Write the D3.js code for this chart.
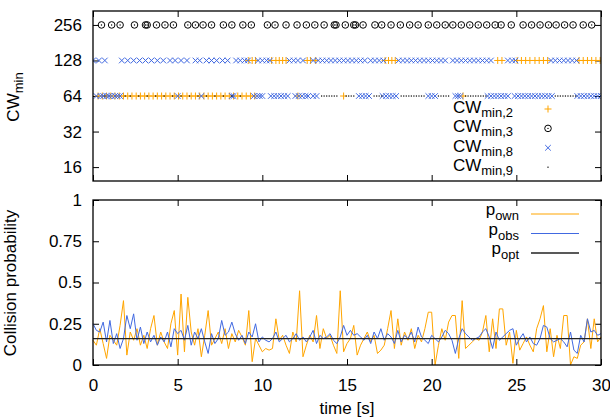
<!DOCTYPE html>
<html lang="en">
  <head>
    <meta charset="utf-8">
    <title>CWmin and collision probability</title>
    <script src="https://d3js.org/d3.v7.min.js"></script>
    <style>
      body { margin: 0; background: #fff; }
      text { font-family: "Liberation Sans", Arial, sans-serif; fill: #000; }
      .frame { fill: none; stroke: #000; stroke-width: 1.3px; }
      .tick line { stroke: #000; stroke-width: 1px; }
    </style>
  </head>
  <body>
    <svg id="chart" width="610" height="418"></svg>
    <script>
      // x ticks (time in seconds)
      var xTicks = [0, 5, 10, 15, 20, 25, 30];
      var cwTicks = [16, 32, 64, 128, 256];
      var pTicks = [0, 0.25, 0.5, 0.75, 1];
      var pTickLabels = ["0", "0.25", "0.5", "0.75", "1"];

      // CW_min,2 : [time, CWmin]
      var cw2 = [
        [0.3,64],[0.55,64],[0.8,64],[1.05,64],[1.3,64],[1.55,64],[1.8,64],[2.05,64],[2.3,64],[2.55,64],
        [2.8,64],[3.05,64],[3.3,64],[3.55,64],[3.8,64],[4.05,64],[4.3,64],[4.55,64],[4.8,64],[5.05,64],
        [5.3,64],[5.55,64],[5.8,64],[6.05,64],[6.3,64],[6.55,64],[6.8,64],[7.05,64],[7.3,64],[7.55,64],
        [7.8,64],[8.05,64],[8.3,64],[8.55,64],[8.8,64],[9.05,64],[9.3,64],[9.55,64],
        [9.2,128],[9.4,128],[9.6,128],[10.55,128],[10.8,128],[11.0,128],[11.2,128],[11.4,128],
        [12.1,64],[12.65,128],[12.85,128],[13.15,128],[14.8,64],
        [17.25,128],[17.45,128],[17.65,128],[17.85,128],[21.85,64],[23.9,128],[24.15,128],
        [25.05,128],[25.3,128],[25.55,128],[25.8,128],[26.1,128],[26.35,128],[26.6,128],[26.85,128],
        [28.7,128],[28.95,128],[29.2,128],[29.45,128],[29.7,128],[29.95,128]
      ];

      // CW_min,3 : [time, CWmin]
      var cw3 = [
        [0.5,256],[1.1,256],[1.6,256],[2.45,256],[3.1,256],[3.2,256],[3.75,256],[4.25,256],[4.75,256],
        [5.6,256],[6.05,256],[6.5,256],[7.0,256],[7.7,256],[8.2,256],[8.85,256],[9.35,256],[10.3,256],
        [10.75,256],[11.4,256],[12.05,256],[12.6,256],[13.1,256],[13.65,256],[14.25,256],[14.35,256],
        [14.9,256],[15.4,256],[15.5,256],[15.95,256],[16.65,256],[17.05,256],[17.6,256],[18.15,256],
        [18.7,256],[19.2,256],[19.8,256],[20.3,256],[20.8,256],[21.25,256],[21.75,256],[22.25,256],
        [22.75,256],[23.25,256],[23.75,256],[24.1,256],[24.7,256],[25.4,256],[25.9,256],[26.4,256],
        [26.9,256],[27.35,256],[27.85,256],[28.35,256],[28.95,256],[29.45,256]
      ];

      // CW_min,8 : [time, CWmin]
      var cw8 = [
        [0.0,128],[0.35,128],[0.7,128],
        [0.2,64],[0.45,64],[0.6,64],[0.8,64],[0.95,64],[1.1,64],[1.3,64],[1.45,64],[1.6,64],
        [1.7,128],[2.05,128],[2.4,128],[2.75,128],[3.1,128],[3.45,128],[3.8,128],[4.15,128],[4.55,128],
        [4.85,128],[5.2,128],[5.55,128],[6.05,128],[6.3,128],[6.7,128],[7.0,128],[7.3,128],[7.65,128],[7.95,128],
        [5.0,64],[6.4,64],[8.2,64],[8.3,64],
        [8.45,128],[8.7,128],[8.95,128],[9.15,128],
        [9.5,64],[9.7,64],[9.85,64],[10.0,64],
        [9.75,128],[10.0,128],[10.25,128],[10.45,128],
        [10.5,64],[10.7,64],[10.9,64],[11.1,64],[11.3,64],[11.5,64],
        [11.6,128],[11.85,128],[12.1,128],[12.4,128],
        [11.95,64],[12.15,64],[12.35,64],[12.55,64],[12.7,64],[13.0,64],[13.2,64],
        [13.0,128],[13.3,128],[13.55,128],[13.8,128],[14.05,128],[14.3,128],[14.55,128],[14.8,128],
        [15.05,128],[15.3,128],[15.55,128],[15.8,128],[16.05,128],
        [15.7,64],[15.9,64],[16.1,64],[16.3,64],
        [16.4,128],[16.65,128],[16.9,128],[17.15,128],
        [17.1,64],[17.3,64],[17.5,64],[17.7,64],[17.9,64],
        [18.05,128],[18.3,128],[18.55,128],[18.8,128],[19.05,128],[19.3,128],[19.55,128],[19.8,128],
        [20.05,128],[20.3,128],[20.55,128],[20.8,128],[21.25,128],[21.5,128],[21.75,128],[22.0,128],
        [22.25,128],[22.5,128],[22.75,128],[23.0,128],[23.25,128],[23.5,128],
        [19.8,64],[20.0,64],[20.2,64],[21.4,64],[21.55,64],[21.7,64],[23.3,64],[23.5,64],[23.7,64],
        [23.9,64],[24.1,64],[24.3,64],[24.5,64],
        [24.5,128],[24.75,128],[24.95,128],
        [24.9,64],[25.1,64],[25.3,64],[25.5,64],[25.7,64],[25.9,64],[26.1,64],[26.3,64],[26.5,64],
        [26.7,64],[26.9,64],[27.1,64],
        [27.05,128],[27.3,128],[27.55,128],[27.8,128],[28.05,128],[28.3,128],[28.55,128],
        [28.6,64],[28.8,64],[29.0,64],[29.2,64],[29.4,64],[29.6,64],[29.8,64],[30.0,64]
      ];

      // CW_min,9 : [time, CWmin]
      var cw9 = [
        [0.7,64],[1.9,64],[2.2,64],[2.7,64],[3.2,64],[3.7,64],[4.2,64],[4.7,64],[5.2,64],[5.7,64],
        [6.2,64],[6.7,64],[7.2,64],[7.7,64],[8.2,64],[8.7,64],
        [13.5,64],[13.65,64],[13.8,64],[13.95,64],[14.1,64],[14.25,64],[14.4,64],
        [14.95,64],[15.1,64],[15.25,64],[15.4,64],[16.6,64],[16.75,64],[16.9,64],[17.05,64],
        [18.2,64],[18.35,64],[18.5,64],[18.65,64],[18.8,64],[18.95,64],[19.1,64],[19.25,64],[19.4,64],[19.55,64],
        [20.4,64],[20.55,64],[20.7,64],[20.85,64],[21.0,64],
        [22.0,64],[22.15,64],[22.3,64],[22.45,64],[22.6,64],[22.75,64],[22.9,64],[23.05,64],[23.2,64],
        [27.3,64],[27.45,64],[27.6,64],[27.75,64],[27.9,64],[28.05,64],[28.2,64],[28.35,64],[28.5,64]
      ];

      // collision probabilities, one sample every 0.2 s from t = 0
      var sampleStep = 0.2;
      var pOwn = [
        0.15,0.12,0.22,0.13,0.04,0.18,0.15,0.12,0.24,0.39,
        0.06,0.20,0.15,0.22,0.12,0.18,0.10,0.22,0.30,0.12,
        0.20,0.14,0.10,0.25,0.33,0.06,0.43,0.08,0.41,0.20,
        0.12,0.22,0.05,0.18,0.33,0.12,0.16,0.20,0.13,0.22,
        0.10,0.19,0.14,0.21,0.17,0.12,0.33,0.02,0.16,0.12,
        0.08,0.10,0.09,0.10,0.28,0.15,0.18,0.12,0.07,0.20,
        0.14,0.45,0.05,0.12,0.18,0.14,0.30,0.10,0.22,0.16,
        0.18,0.12,0.07,0.45,0.08,0.13,0.16,0.24,0.06,0.12,
        0.16,0.20,0.14,0.18,0.07,0.09,0.12,0.22,0.33,0.10,
        0.28,0.12,0.20,0.15,0.22,0.10,0.18,0.14,0.22,0.32,
        0.32,0.00,0.12,0.22,0.15,0.26,0.30,0.30,0.04,0.39,
        0.10,0.12,0.14,0.16,0.15,0.20,0.30,0.08,0.28,0.10,
        0.34,0.34,0.12,0.20,0.01,0.21,0.09,0.13,0.17,0.12,
        0.08,0.22,0.28,0.36,0.08,0.22,0.05,0.18,0.10,0.30,
        0.30,0.00,0.05,0.04,0.12,0.14,0.28,0.10,0.28,0.14,
        0.17
      ];
      var pObs = [
        0.25,0.21,0.20,0.26,0.14,0.27,0.13,0.19,0.10,0.16,
        0.30,0.22,0.31,0.15,0.23,0.13,0.20,0.14,0.18,0.12,
        0.17,0.14,0.20,0.11,0.22,0.19,0.21,0.15,0.24,0.12,
        0.20,0.16,0.22,0.14,0.07,0.19,0.13,0.16,0.27,0.18,
        0.20,0.26,0.19,0.15,0.18,0.13,0.20,0.17,0.25,0.14,
        0.17,0.15,0.14,0.16,0.20,0.14,0.16,0.18,0.14,0.16,
        0.19,0.15,0.17,0.14,0.17,0.21,0.13,0.18,0.16,0.17,
        0.19,0.15,0.13,0.17,0.24,0.18,0.21,0.18,0.19,0.17,
        0.15,0.18,0.13,0.20,0.16,0.22,0.15,0.19,0.17,0.13,
        0.21,0.14,0.18,0.16,0.20,0.14,0.23,0.17,0.15,0.13,
        0.18,0.16,0.14,0.17,0.21,0.19,0.15,0.07,0.16,0.22,
        0.19,0.17,0.15,0.16,0.17,0.20,0.22,0.17,0.10,0.20,
        0.15,0.17,0.19,0.21,0.22,0.12,0.16,0.19,0.14,0.17,
        0.13,0.12,0.16,0.24,0.23,0.16,0.14,0.15,0.16,0.14,
        0.11,0.20,0.09,0.07,0.18,0.14,0.28,0.20,0.21,0.18,
        0.19
      ];
      var pOpt = [[0, 0.16], [30, 0.16]];

      var orange = "#ffa500", blue = "#4169e1";

      var svg = d3.select("#chart");
      var left = 93, right = 601;

      var x = d3.scaleLinear().domain([0, 30]).range([left, right]);
      var yCw = d3.scaleLog().base(2).domain([12.2, 336]).range([181, 11]);
      var yP = d3.scaleLinear().domain([0, 1]).range([365, 200]);

      // ---- top panel ----
      var topPanel = svg.append("g");

      // inward ticks on all four sides
      topPanel.append("g").attr("class", "tick")
        .attr("transform", "translate(0,181)")
        .call(d3.axisBottom(x).tickValues(xTicks).tickSizeInner(-6).tickSizeOuter(0).tickFormat(""))
        .call(function(g) { g.select(".domain").remove(); });
      topPanel.append("g").attr("class", "tick")
        .attr("transform", "translate(0,11)")
        .call(d3.axisTop(x).tickValues(xTicks).tickSizeInner(-6).tickSizeOuter(0).tickFormat(""))
        .call(function(g) { g.select(".domain").remove(); });
      var yAxTop = topPanel.append("g")
        .attr("transform", "translate(" + left + ",0)")
        .call(d3.axisLeft(yCw).tickValues(cwTicks).tickSizeInner(0).tickSizeOuter(0).tickPadding(11).tickFormat(d3.format("d")));
      yAxTop.select(".domain").remove();
      yAxTop.selectAll("text").style("font-size", "17px").attr("fill", "#000");
      topPanel.append("g")
        .attr("transform", "translate(" + left + ",0)")
        .call(d3.axisRight(yCw).tickValues(cwTicks).tickSizeInner(6).tickSizeOuter(0).tickFormat(""))
        .call(function(g) { g.select(".domain").remove(); });
      topPanel.append("g")
        .attr("transform", "translate(" + right + ",0)")
        .call(d3.axisLeft(yCw).tickValues(cwTicks).tickSizeInner(6).tickSizeOuter(0).tickFormat(""))
        .call(function(g) { g.select(".domain").remove(); });

      svg.append("clipPath").attr("id", "clipTop")
        .append("rect").attr("x", left).attr("y", 11).attr("width", right - left).attr("height", 170);

      var marks = topPanel.append("g").attr("clip-path", "url(#clipTop)");

      function plus(g, cx, cy, s, col) {
        g.append("path").attr("d", "M" + (cx - s) + "," + cy + "H" + (cx + s) + "M" + cx + "," + (cy - s) + "V" + (cy + s))
          .attr("stroke", col).attr("stroke-width", 1).attr("fill", "none");
      }
      function cross(g, cx, cy, s, col) {
        g.append("path").attr("d", "M" + (cx - s) + "," + (cy - s) + "L" + (cx + s) + "," + (cy + s) + "M" + (cx - s) + "," + (cy + s) + "L" + (cx + s) + "," + (cy - s))
          .attr("stroke", col).attr("stroke-width", 1).attr("fill", "none");
      }
      function ring(g, cx, cy, col) {
        g.append("circle").attr("cx", cx).attr("cy", cy).attr("r", 3.3)
          .attr("fill", "none").attr("stroke", col).attr("stroke-width", 1);
        g.append("circle").attr("cx", cx).attr("cy", cy).attr("r", 0.7).attr("fill", col);
      }
      function dot(g, cx, cy, col) {
        g.append("rect").attr("x", cx - 0.6).attr("y", cy - 0.6).attr("width", 1.2).attr("height", 1.2).attr("fill", col);
      }

      cw2.forEach(function(d) { plus(marks, x(d[0]), yCw(d[1]), 3.5, orange); });
      cw3.forEach(function(d) { ring(marks, x(d[0]), yCw(d[1]), "#000"); });
      cw8.forEach(function(d) { cross(marks, x(d[0]), yCw(d[1]), 2.8, blue); });
      cw9.forEach(function(d) { dot(marks, x(d[0]), yCw(d[1]), "#000"); });

      topPanel.append("rect").attr("class", "frame")
        .attr("x", left).attr("y", 11).attr("width", right - left).attr("height", 170);

      // legend, top panel
      var cwLegend = [
        { sub: "min,2", draw: function(g, cx, cy) { plus(g, cx, cy, 3.5, orange); } },
        { sub: "min,3", draw: function(g, cx, cy) { ring(g, cx, cy, "#000"); } },
        { sub: "min,8", draw: function(g, cx, cy) { cross(g, cx, cy, 2.8, blue); } },
        { sub: "min,9", draw: function(g, cx, cy) { dot(g, cx, cy, "#000"); } }
      ];
      cwLegend.forEach(function(d, i) {
        var cy = 109 + i * 19.4;
        var t = topPanel.append("text").attr("x", 513).attr("y", cy + 4).attr("text-anchor", "end").style("font-size", "17px");
        t.append("tspan").text("CW");
        t.append("tspan").attr("dy", 4).style("font-size", "13px").text(d.sub);
        d.draw(topPanel, 548, cy);
      });

      svg.append("text")
        .attr("transform", "translate(19,97) rotate(-90)")
        .attr("text-anchor", "middle").style("font-size", "17px")
        .call(function(t) {
          t.append("tspan").text("CW");
          t.append("tspan").attr("dy", 4).style("font-size", "13px").text("min");
        });

      // ---- bottom panel ----
      var botPanel = svg.append("g");
      var xAxBot = botPanel.append("g")
        .attr("transform", "translate(0,365)")
        .call(d3.axisBottom(x).tickValues(xTicks).tickSizeInner(-6).tickSizeOuter(0).tickPadding(14));
      xAxBot.select(".domain").remove();
      xAxBot.selectAll("text").style("font-size", "17px").attr("fill", "#000");
      botPanel.append("g")
        .attr("transform", "translate(0,200)")
        .call(d3.axisTop(x).tickValues(xTicks).tickSizeInner(-6).tickSizeOuter(0).tickFormat(""))
        .call(function(g) { g.select(".domain").remove(); });
      var yAxBot = botPanel.append("g")
        .attr("transform", "translate(" + left + ",0)")
        .call(d3.axisLeft(yP).tickValues(pTicks).tickSizeInner(0).tickSizeOuter(0).tickPadding(11)
          .tickFormat(function(d, i) { return pTickLabels[i]; }));
      yAxBot.select(".domain").remove();
      yAxBot.selectAll("text").style("font-size", "17px").attr("fill", "#000");
      botPanel.append("g")
        .attr("transform", "translate(" + left + ",0)")
        .call(d3.axisRight(yP).tickValues(pTicks).tickSizeInner(6).tickSizeOuter(0).tickFormat(""))
        .call(function(g) { g.select(".domain").remove(); });
      botPanel.append("g")
        .attr("transform", "translate(" + right + ",0)")
        .call(d3.axisLeft(yP).tickValues(pTicks).tickSizeInner(6).tickSizeOuter(0).tickFormat(""))
        .call(function(g) { g.select(".domain").remove(); });

      var line = d3.line()
        .x(function(d, i) { return x(i * sampleStep); })
        .y(function(d) { return yP(d); });
      var optLine = d3.line()
        .x(function(d) { return x(d[0]); })
        .y(function(d) { return yP(d[1]); });

      botPanel.append("path").datum(pOwn).attr("d", line)
        .attr("fill", "none").attr("stroke", orange).attr("stroke-width", 1);
      botPanel.append("path").datum(pObs).attr("d", line)
        .attr("fill", "none").attr("stroke", blue).attr("stroke-width", 1);
      botPanel.append("path").datum(pOpt).attr("d", optLine)
        .attr("fill", "none").attr("stroke", "#222").attr("stroke-width", 1.3);

      botPanel.append("rect").attr("class", "frame")
        .attr("x", left).attr("y", 200).attr("width", right - left).attr("height", 165);

      // legend, bottom panel
      var pLegend = [
        { sub: "own", col: orange, w: 1 },
        { sub: "obs", col: blue, w: 1 },
        { sub: "opt", col: "#222", w: 1.3 }
      ];
      pLegend.forEach(function(d, i) {
        var cy = 214 + i * 19.5;
        var t = botPanel.append("text").attr("x", 519).attr("y", cy + 1).attr("text-anchor", "end").style("font-size", "17px");
        t.append("tspan").text("p");
        t.append("tspan").attr("dy", 5).style("font-size", "13px").text(d.sub);
        botPanel.append("line").attr("x1", 531).attr("x2", 579).attr("y1", cy).attr("y2", cy)
          .attr("stroke", d.col).attr("stroke-width", d.w);
      });

      svg.append("text")
        .attr("transform", "translate(16,283) rotate(-90)")
        .attr("text-anchor", "middle").style("font-size", "17px")
        .text("Collision probability");

      svg.append("text")
        .attr("x", (left + right) / 2).attr("y", 414)
        .attr("text-anchor", "middle").style("font-size", "17px")
        .text("time [s]");
    </script>
  </body>
</html>
